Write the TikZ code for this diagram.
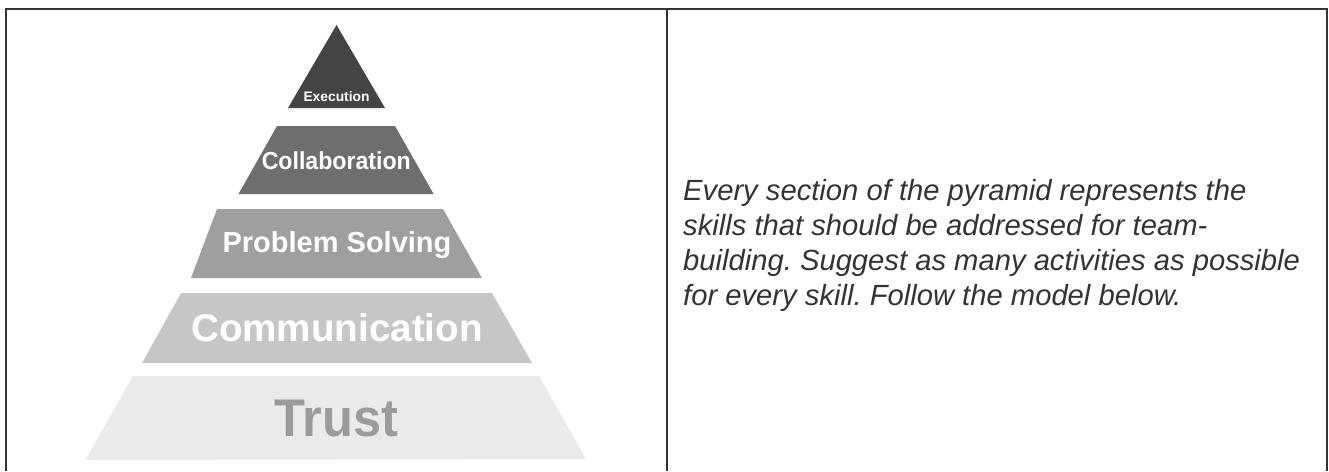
\documentclass[tikz,border=0pt]{standalone}
\usepackage{fontspec}
\setmainfont{Liberation Sans}
\frenchspacing
\definecolor{frameline}{HTML}{333333}
\definecolor{lvlA}{HTML}{444444}
\definecolor{lvlB}{HTML}{6E6E6E}
\definecolor{lvlC}{HTML}{9F9F9F}
\definecolor{lvlD}{HTML}{C6C6C4}
\definecolor{lvlE}{HTML}{E9EBEA}
\definecolor{trusttext}{HTML}{9B9B9B}
\definecolor{bodytext}{HTML}{333333}
\begin{document}
\begin{tikzpicture}[x=1pt,y=-1pt,
  framerule/.style={draw=frameline,line width=2.2pt},
  levellabel/.style={anchor=base,inner sep=0pt,text=white,font=\bfseries},
  bodynote/.style={anchor=base west,inner sep=0pt,align=left,text=bodytext,
    font=\fontsize{29.2}{35}\selectfont\itshape}]
  \useasboundingbox (0,0) rectangle (1329,471);
  \fill[white] (0,0) rectangle (1329,471);

  % table frame: open at the bottom
  \draw[framerule] (5.7,471) -- (5.7,8.7) -- (1327,8.7) -- (1327,471);
  \draw[framerule] (667.3,8.7) -- (667.3,471);

  % pyramid levels, top to bottom
  \fill[lvlA] (336.5,25) -- (385,108) -- (288,108) -- cycle;
  \fill[lvlB] (277,126) -- (395,126) -- (433.6,194) -- (238.5,194) -- cycle;
  \fill[lvlC] (217,209) -- (443,209) -- (482,278) -- (191,278) -- cycle;
  \fill[lvlD] (181,293) -- (492,293) -- (532,363) -- (142,363) -- cycle;
  \fill[lvlE] (133,376) -- (539,376) -- (586,459) -- (85.4,460) -- cycle;

  % level captions
  \node[levellabel,font=\bfseries\fontsize{13.8}{16}\selectfont] (exec) at (336.5,101) {Execution};
  \node[levellabel,xscale=0.94,transform shape,font=\bfseries\fontsize{24.6}{29}\selectfont] (collab) at (336.3,169.5) {Collaboration};
  \node[levellabel,font=\bfseries\fontsize{29}{34}\selectfont] (probsolv) at (337,252.7) {Problem Solving};
  \node[levellabel,font=\bfseries\fontsize{38.6}{45}\selectfont] (comm) at (337,341.7) {Communication};
  \node[levellabel,xscale=0.955,transform shape,text=trusttext,font=\bfseries\fontsize{53}{62}\selectfont] (trust) at (336.5,436.7) {Trust};

  % instructions in the right-hand cell (base anchor sits on the last line)
  \node[bodynote] (note) at (683,305) {Every section of the pyramid represents the\\
    skills that should be addressed for team-\\
    building. Suggest as many activities as possible\\
    for every skill. Follow the model below.};
\end{tikzpicture}
\end{document}
